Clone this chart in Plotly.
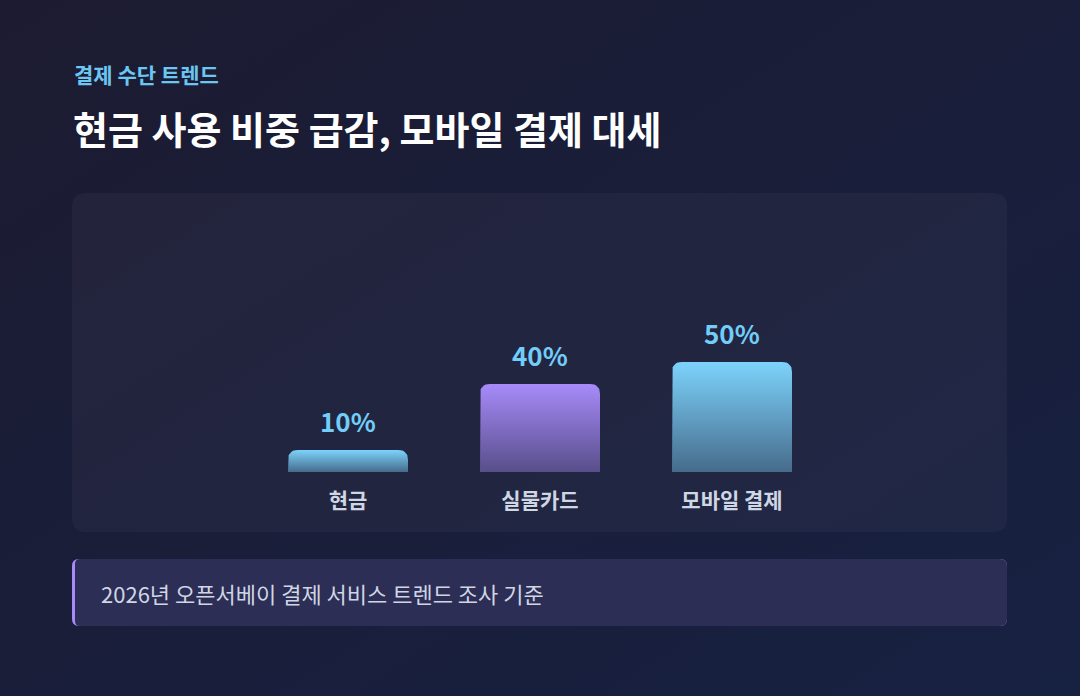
import base64
import plotly.graph_objects as go

W, H = 1080, 696

# data
categories = ["현금", "실물카드", "모바일 결제"]
shares = [10, 40, 50]
value_labels = [f"{v}%" for v in shares]
top_colors = ["#7dd3fc", "#a78bfa", "#7dd3fc"]
bottom_colors = ["#466b8b", "#584e8a", "#466b8b"]

kicker = "결제 수단 트렌드"
title = "현금 사용 비중 급감, 모바일 결제 대세"
source_note = "2026년 오픈서베이 결제 서비스 트렌드 조사 기준"

FONT = "Noto Sans CJK KR"

# pixel layout -> axis scales
base_px = 472          # baseline of bars (from top)
px_per_cat = 192
px_per_unit = 2.2
first_cat_px = 348
bar_half = 60 / px_per_cat
rx = 10 / px_per_cat
ry = 10 / px_per_unit


def fx(x):
    return x / W


def fy(y):
    return 1 - y / H


def rounded_rect(x0, y0, x1, y1, rl, rr):
    # pixel coords (y down) -> paper path
    p = [
        f"M{fx(x0 + rl)},{fy(y0)}",
        f"L{fx(x1 - rr)},{fy(y0)}",
        f"Q{fx(x1)},{fy(y0)} {fx(x1)},{fy(y0 + rr)}",
        f"L{fx(x1)},{fy(y1 - rr)}",
        f"Q{fx(x1)},{fy(y1)} {fx(x1 - rr)},{fy(y1)}",
        f"L{fx(x0 + rl)},{fy(y1)}",
        f"Q{fx(x0)},{fy(y1)} {fx(x0)},{fy(y1 - rl)}",
        f"L{fx(x0)},{fy(y0 + rl)}",
        f"Q{fx(x0)},{fy(y0)} {fx(x0 + rl)},{fy(y0)}",
        "Z",
    ]
    return " ".join(p)


def bar_outline(i, v):
    # rounded-top bar outline in data units
    xs, ys = [], []
    l, r = i - bar_half, i + bar_half
    ry_ = min(ry, v)
    n = 8
    xs += [l, l]
    ys += [0, v - ry_]
    for k in range(1, n + 1):
        t = k / n
        xs.append((1 - t) ** 2 * l + 2 * (1 - t) * t * l + t * t * (l + rx))
        ys.append((1 - t) ** 2 * (v - ry_) + 2 * (1 - t) * t * v + t * t * v)
    xs.append(r - rx)
    ys.append(v)
    for k in range(1, n + 1):
        t = k / n
        xs.append((1 - t) ** 2 * (r - rx) + 2 * (1 - t) * t * r + t * t * r)
        ys.append((1 - t) ** 2 * v + 2 * (1 - t) * t * v + t * t * (v - ry_))
    xs += [r, l]
    ys += [0, 0]
    return xs, ys


# page background gradient as an svg image
bg_svg = (
    f'<svg xmlns="http://www.w3.org/2000/svg" width="{W}" height="{H}">'
    '<defs><linearGradient id="g" x1="0" y1="0" x2="1" y2="1">'
    '<stop offset="0" stop-color="#1c1b31"/>'
    '<stop offset="1" stop-color="#172142"/>'
    '</linearGradient></defs>'
    f'<rect width="{W}" height="{H}" fill="url(#g)"/></svg>'
)
bg_uri = "data:image/svg+xml;base64," + base64.b64encode(bg_svg.encode()).decode()

fig = go.Figure()

for i, (cat, v) in enumerate(zip(categories, shares)):
    xs, ys = bar_outline(i, v)
    fig.add_trace(go.Scatter(
        x=xs, y=ys, mode="lines", fill="toself",
        line=dict(width=0),
        fillgradient=dict(type="vertical",
                          colorscale=[[0, bottom_colors[i]], [1, top_colors[i]]]),
        hoverinfo="skip", showlegend=False, name=cat,
    ))

x0 = -first_cat_px / px_per_cat
fig.update_xaxes(
    range=[x0, x0 + W / px_per_cat], domain=[0, 1],
    tickvals=list(range(len(categories))), ticktext=categories,
    tickfont=dict(family=FONT, size=21, color="#cfd6e4", weight=700),
    showgrid=False, zeroline=False, showline=False, ticks="",
    ticklabelstandoff=14, fixedrange=True,
)
fig.update_yaxes(
    range=[0, base_px / px_per_unit], domain=[(H - base_px) / H, 1],
    visible=False, fixedrange=True,
)

shapes = [
    dict(type="path", xref="paper", yref="paper", layer="below",
         path=rounded_rect(72, 193, 1007, 532, 14, 14),
         fillcolor="rgba(255,255,255,0.035)", line=dict(width=0)),
    dict(type="path", xref="paper", yref="paper", layer="below",
         path=rounded_rect(72, 559, 1007, 626, 7, 7),
         fillcolor="#a78bfa", line=dict(width=0)),
    dict(type="path", xref="paper", yref="paper", layer="below",
         path=rounded_rect(75, 559, 1007, 626, 5, 7),
         fillcolor="#2c2e55", line=dict(width=0)),
]

annotations = [
    dict(text=f"<b>{t}</b>", x=i, y=v, xref="x", yref="y",
         xanchor="center", yanchor="middle", yshift=30, showarrow=False,
         font=dict(family=FONT, size=26, color="#72cdf8"))
    for i, (t, v) in enumerate(zip(value_labels, shares))
]
annotations += [
    dict(text=f"<b>{kicker}</b>", x=fx(72), y=fy(74), xref="paper", yref="paper",
         xanchor="left", yanchor="middle", showarrow=False,
         font=dict(family=FONT, size=21, color="#6cc6f2")),
    dict(text=f"<b>{title}</b>", x=fx(71), y=fy(127), xref="paper", yref="paper",
         xanchor="left", yanchor="middle", showarrow=False,
         font=dict(family=FONT, size=38, color="#ffffff")),
    dict(text=source_note, x=fx(99), y=fy(593), xref="paper", yref="paper",
         xanchor="left", yanchor="middle", showarrow=False,
         font=dict(family=FONT, size=22, color="#cfd6e4")),
]

fig.update_layout(
    width=W, height=H,
    margin=dict(l=0, r=0, t=0, b=0),
    paper_bgcolor="#1b1d36", plot_bgcolor="rgba(0,0,0,0)",
    images=[dict(source=bg_uri, xref="paper", yref="paper", x=0, y=1,
                 sizex=1, sizey=1, xanchor="left", yanchor="top",
                 sizing="stretch", layer="below")],
    shapes=shapes, annotations=annotations,
    showlegend=False,
)

fig.write_html("out.html", config={"displayModeBar": False},
               post_script="document.body.style.margin='0';"
                           "document.body.style.overflow='hidden';")
